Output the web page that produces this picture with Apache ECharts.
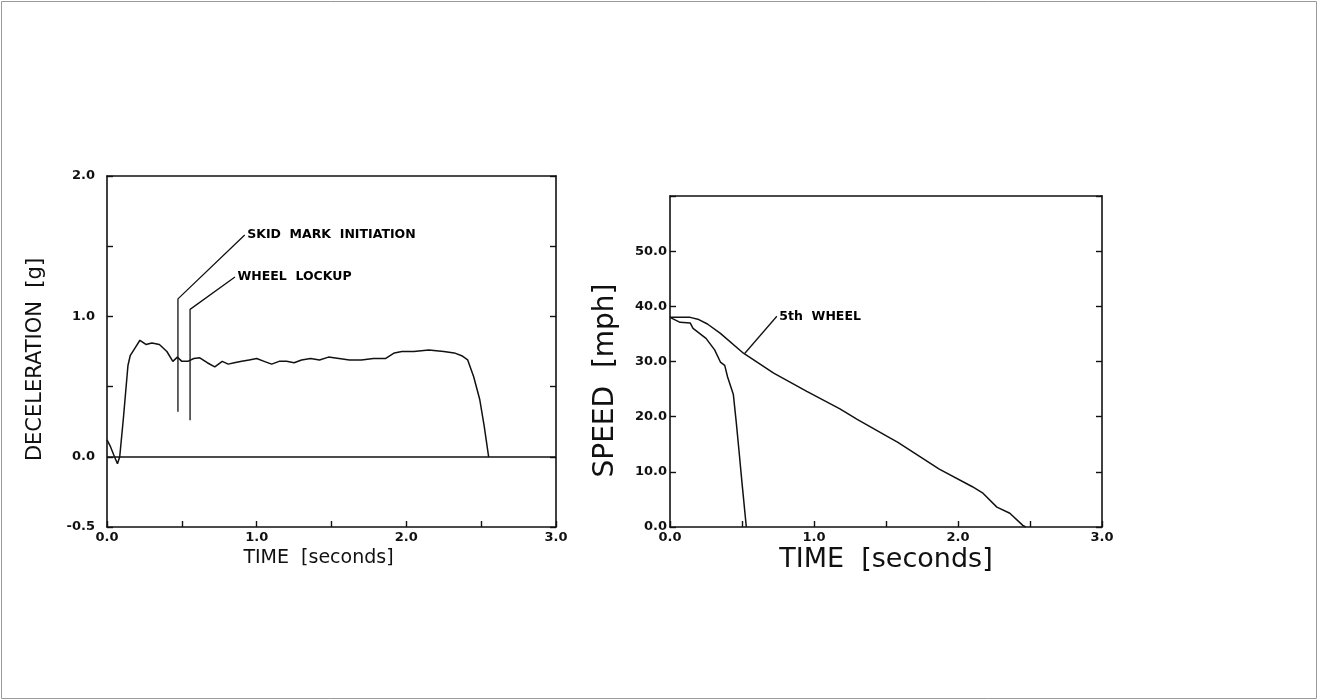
<!DOCTYPE html>
<html><head><meta charset="utf-8">
<script src="https://cdn.jsdelivr.net/npm/echarts@6/dist/echarts.min.js"></script>
<style>html,body{margin:0;padding:0;background:#fff}#c{width:1318px;height:700px}</style>
</head><body><div id="c"></div>
<script>
// Deceleration vs time (left chart)
const decelT = [0, 0.02, 0.05, 0.07, 0.085, 0.11, 0.14, 0.155, 0.19, 0.22, 0.26, 0.30, 0.35, 0.40, 0.44, 0.47, 0.50, 0.54, 0.58, 0.62, 0.67, 0.72, 0.77, 0.81, 0.85, 0.90, 0.95, 1.00, 1.05, 1.10, 1.15, 1.20, 1.25, 1.30, 1.36, 1.42, 1.48, 1.55, 1.62, 1.70, 1.78, 1.86, 1.92, 1.97, 2.05, 2.15, 2.25, 2.32, 2.37, 2.41, 2.45, 2.49, 2.52, 2.55];
const decelG = [0.12, 0.08, 0.0, -0.05, 0.0, 0.28, 0.65, 0.72, 0.78, 0.83, 0.80, 0.81, 0.80, 0.75, 0.68, 0.71, 0.68, 0.68, 0.70, 0.705, 0.67, 0.64, 0.68, 0.66, 0.67, 0.68, 0.69, 0.70, 0.68, 0.66, 0.68, 0.68, 0.67, 0.69, 0.70, 0.69, 0.71, 0.70, 0.69, 0.69, 0.70, 0.70, 0.74, 0.75, 0.75, 0.76, 0.75, 0.74, 0.72, 0.69, 0.57, 0.41, 0.22, 0.0];
// Annotation leader lines (left chart)
const skidLineT = [0.474, 0.474, 0.92];
const skidLineG = [0.32, 1.125, 1.58];
const lockLineT = [0.555, 0.555, 0.855];
const lockLineG = [0.26, 1.05, 1.28];
const skidText = 'SKID  MARK  INITIATION';
const lockText = 'WHEEL  LOCKUP';

// Speed vs time (right chart)
const fifthT = [0, 0.14, 0.20, 0.26, 0.35, 0.51, 0.72, 0.95, 1.18, 1.30, 1.53, 1.58, 1.87, 2.10, 2.17, 2.27, 2.36, 2.45, 2.47];
const fifthV = [38.0, 38.0, 37.6, 36.8, 35.1, 31.5, 27.9, 24.6, 21.4, 19.5, 16.1, 15.4, 10.5, 7.3, 6.2, 3.6, 2.5, 0.3, 0];
const wheelT = [0, 0.07, 0.14, 0.16, 0.25, 0.31, 0.35, 0.38, 0.40, 0.44, 0.46, 0.48, 0.50, 0.53];
const wheelV = [38.0, 37.1, 37.0, 36.0, 34.2, 32.1, 29.9, 29.3, 27.2, 24.0, 19.0, 13.6, 8.0, 0];
const fifthLeaderT = [0.52, 0.742];
const fifthLeaderV = [31.5, 38.2];
const fifthText = '5th  WHEEL';

// Axis tick labels
const leftXLabels = [0, 1, 2, 3];
const leftYLabels = [-0.5, 0, 1, 2];
const rightXLabels = [0, 1, 2, 3];
const rightYLabels = [0, 10, 20, 30, 40, 50];

const pairs = (a, b) => a.map((x, i) => [x, b[i]]);
const INK = '#111';
const FONT = '"DejaVu Sans", sans-serif';
const lblStyle = { color: INK, fontFamily: FONT, fontWeight: 'bold', fontSize: 13 };

function xAxisMain(grid, labels, name, nameSize, nameGap, pad) {
  return {
    type: 'value', gridIndex: grid, min: 0, max: 3, interval: 0.5, position: 'bottom',
    axisLine: { show: true, onZero: false, lineStyle: { color: INK, width: 1.6 } },
    axisTick: { show: true, inside: true, length: 6, lineStyle: { color: INK, width: 1.4 } },
    splitLine: { show: false },
    axisLabel: Object.assign({ margin: 4, showMinLabel: true, showMaxLabel: true,
      formatter: v => labels.some(l => Math.abs(l - v) < 1e-9) ? v.toFixed(1) : '' }, lblStyle),
    name: name, nameLocation: 'middle', nameGap: nameGap,
    nameTextStyle: { color: INK, fontFamily: FONT, fontSize: nameSize, padding: pad }
  };
}
function xAxisTop(grid) {
  return {
    type: 'value', gridIndex: grid, min: 0, max: 3, position: 'top',
    axisLine: { show: true, onZero: false, lineStyle: { color: INK, width: 1.6 } },
    axisTick: { show: false }, axisLabel: { show: false }, splitLine: { show: false }
  };
}
function yAxisMain(grid, min, max, interval, labels, name, nameSize, nameGap, pad, margin) {
  return {
    type: 'value', gridIndex: grid, min: min, max: max, interval: interval, position: 'left',
    axisLine: { show: true, onZero: false, lineStyle: { color: INK, width: 1.6 } },
    axisTick: { show: true, inside: true, length: 6, lineStyle: { color: INK, width: 1.4 } },
    splitLine: { show: false },
    axisLabel: Object.assign({ margin: margin, showMinLabel: true, showMaxLabel: true,
      formatter: v => labels.some(l => Math.abs(l - v) < 1e-9) ? v.toFixed(1) : '' }, lblStyle),
    name: name, nameLocation: 'middle', nameGap: nameGap, nameRotate: 90,
    nameTextStyle: { color: INK, fontFamily: FONT, fontSize: nameSize, padding: pad }
  };
}
function yAxisRight(grid, min, max, interval) {
  return {
    type: 'value', gridIndex: grid, min: min, max: max, interval: interval, position: 'right',
    axisLine: { show: true, onZero: false, lineStyle: { color: INK, width: 1.6 } },
    axisTick: { show: true, inside: true, length: 6, lineStyle: { color: INK, width: 1.4 } },
    axisLabel: { show: false }, splitLine: { show: false }
  };
}
function lineSeries(xi, yi, data, w) {
  return { type: 'line', xAxisIndex: xi, yAxisIndex: yi, data: data, showSymbol: false, symbol: 'none',
    smooth: false, lineStyle: { color: INK, width: w || 1.5 }, silent: true };
}
function textSeries(xi, yi, pt, text) {
  return { type: 'scatter', xAxisIndex: xi, yAxisIndex: yi, data: [pt], symbolSize: 1,
    itemStyle: { color: 'rgba(0,0,0,0)' }, silent: true,
    label: { show: true, position: 'right', distance: 2, formatter: text, opacity: 1,
      color: '#000', fontFamily: FONT, fontWeight: 'bold', fontSize: 12.5, textBorderWidth: 0 } };
}

const chart = echarts.init(document.getElementById('c'), null, { renderer: 'canvas' });
const decelSeries = lineSeries(0, 0, pairs(decelT, decelG), 1.5);
decelSeries.markLine = { silent: true, symbol: 'none', label: { show: false },
  lineStyle: { color: INK, width: 1.5, type: 'solid' }, data: [{ yAxis: 0 }] };
const last = (a) => a[a.length - 1];

chart.setOption({
  animation: false,
  backgroundColor: '#fff',
  graphic: [{ type: 'rect', shape: { x: 1.5, y: 1.5, width: 1315, height: 697 },
    style: { fill: 'none', stroke: '#9a9a9a', lineWidth: 1 }, silent: true }],
  grid: [
    { left: 107, top: 176, width: 449, height: 351 },
    { left: 670, top: 196, width: 432, height: 331 }
  ],
  xAxis: [
    xAxisMain(0, leftXLabels, 'TIME  [seconds]', 19, 20, [0, 26, 0, 0]),
    xAxisTop(0),
    xAxisMain(1, rightXLabels, 'TIME  [seconds]', 27, 19, [0, 0, 0, 0]),
    xAxisTop(1)
  ],
  yAxis: [
    yAxisMain(0, -0.5, 2, 0.5, leftYLabels, 'DECELERATION  [g]', 21, 61, [0, 16, 0, 0], 12),
    yAxisRight(0, -0.5, 2, 0.5),
    yAxisMain(1, 0, 60, 10, rightYLabels, 'SPEED  [mph]', 28, 50, [0, 38, 0, 0], 3),
    yAxisRight(1, 0, 60, 10)
  ],
  series: [
    decelSeries,
    lineSeries(0, 0, pairs(skidLineT, skidLineG), 1.3),
    lineSeries(0, 0, pairs(lockLineT, lockLineG), 1.3),
    textSeries(0, 0, [last(skidLineT), last(skidLineG)], skidText),
    textSeries(0, 0, [last(lockLineT), last(lockLineG)], lockText),
    lineSeries(2, 2, pairs(fifthT, fifthV), 1.5),
    lineSeries(2, 2, pairs(wheelT, wheelV), 1.5),
    lineSeries(2, 2, pairs(fifthLeaderT, fifthLeaderV), 1.3),
    textSeries(2, 2, [last(fifthLeaderT), last(fifthLeaderV)], fifthText)
  ]
});
</script>
</body></html>
